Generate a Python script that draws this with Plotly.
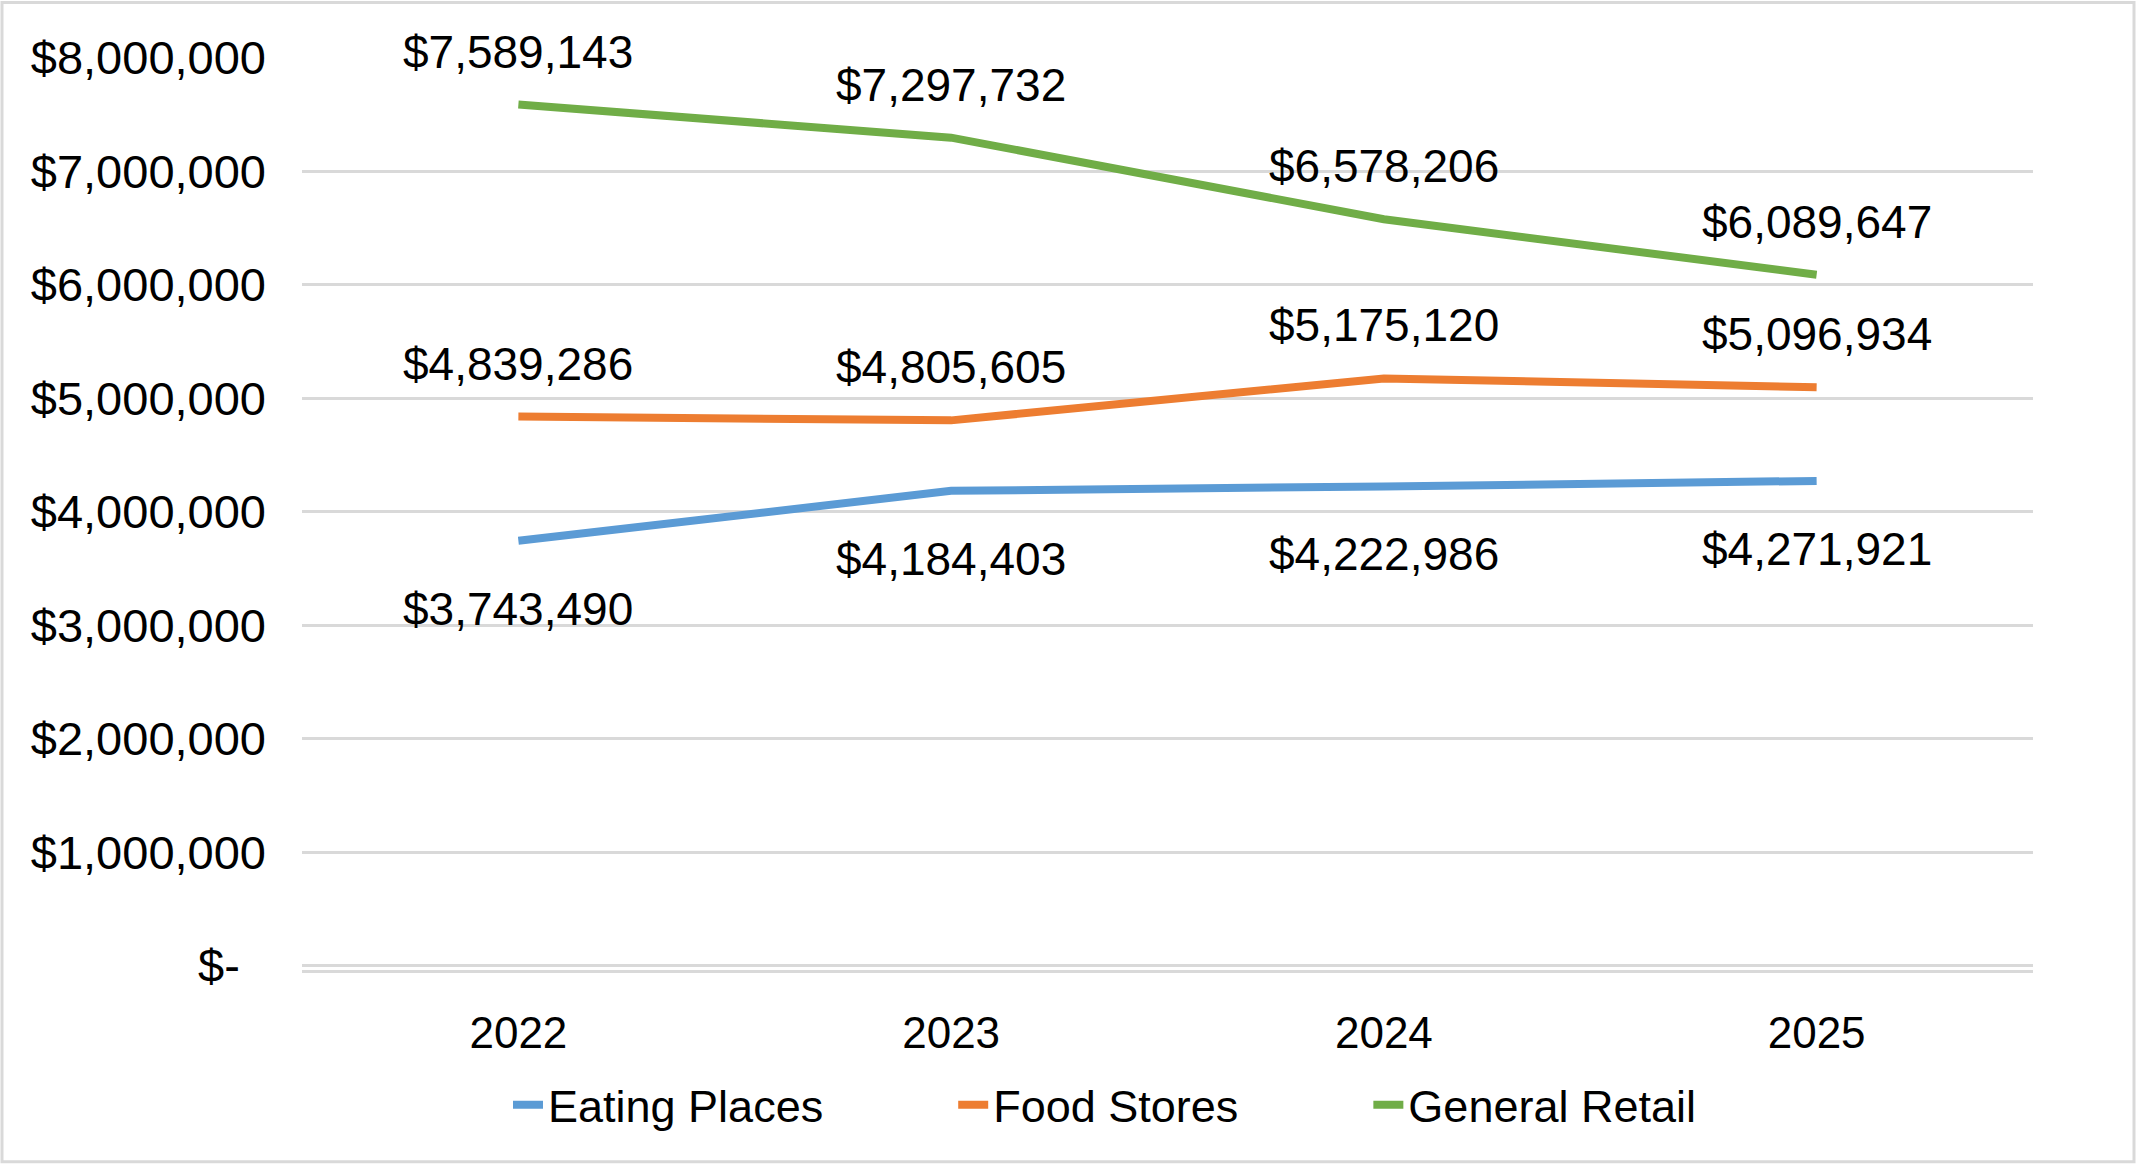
import plotly.graph_objects as go

years = ["2022", "2023", "2024", "2025"]
eating_places = [3743490, 4184403, 4222986, 4271921]
food_stores = [4839286, 4805605, 5175120, 5096934]
general_retail = [7589143, 7297732, 6578206, 6089647]

series_names = ["Eating Places", "Food Stores", "General Retail"]
series_values = [eating_places, food_stores, general_retail]
series_colors = ["#5B9BD5", "#ED7D31", "#70AD47"]
label_shift = [-68, 53, 53]  # px offset of data labels (below / above)

y_tickvals = [0, 1000000, 2000000, 3000000, 4000000, 5000000, 6000000, 7000000, 8000000]
y_ticktext = ["$-\u00a0\u00a0", "$1,000,000", "$2,000,000", "$3,000,000", "$4,000,000",
              "$5,000,000", "$6,000,000", "$7,000,000", "$8,000,000"]

W, H = 2136, 1174
ML, MR, MT, MB = 302, 103, 58, 195
FONT = "Liberation Sans, Arial, sans-serif"
PAD = "\u00a0" * 10

fig = go.Figure()
for i, (name, vals, col) in enumerate(zip(series_names, series_values, series_colors)):
    label = name + (PAD if i < len(series_names) - 1 else "")
    fig.add_trace(go.Scatter(x=years, y=vals, mode="lines", name=label,
                             line=dict(color=col, width=8)))

annotations = []
for vals, shift in zip(series_values, label_shift):
    for idx, v in enumerate(vals):
        annotations.append(dict(x=idx, y=v, xref="x", yref="y", text=f"${v:,}",
                                showarrow=False, yshift=shift,
                                font=dict(family=FONT, size=46, color="black")))

pw = W - ML - MR
ph = H - MT - MB
fig.update_layout(
    width=W, height=H, autosize=False,
    margin=dict(l=ML, r=MR, t=MT, b=MB),
    paper_bgcolor="white", plot_bgcolor="white",
    font=dict(family=FONT, size=44, color="black"),
    annotations=annotations,
    showlegend=True,
    legend=dict(orientation="h", xref="container", yref="container",
                x=508 / W, xanchor="left", y=1 - 1105 / H, yanchor="middle",
                font=dict(family=FONT, size=45, color="black"),
                itemwidth=30, bgcolor="rgba(0,0,0,0)"),
    xaxis=dict(type="category", range=[-0.5, 3.5], showgrid=False,
               showline=True, linecolor="#D9D9D9", linewidth=2.5,
               ticks="", ticklabelstandoff=22,
               tickfont=dict(family=FONT, size=44, color="black")),
    yaxis=dict(range=[-43700, 8000000], tickvals=y_tickvals, ticktext=y_ticktext,
               showgrid=True, gridcolor="#D9D9D9", gridwidth=2.5,
               zeroline=True, zerolinecolor="#D9D9D9", zerolinewidth=2.5,
               showline=False, ticks="", ticklabelstandoff=35,
               tickfont=dict(family=FONT, size=47, color="black")),
    shapes=[dict(type="rect", xref="paper", yref="paper",
                 x0=-(ML - 2) / pw, x1=1 + (MR - 2) / pw,
                 y0=-(MB - 2) / ph, y1=1 + (MT - 2) / ph,
                 line=dict(color="#D9D9D9", width=3), fillcolor="rgba(0,0,0,0)",
                 layer="below")],
)

fig.write_html("out.html", post_script="document.body.style.margin='0';",
               config={"displayModeBar": False})
